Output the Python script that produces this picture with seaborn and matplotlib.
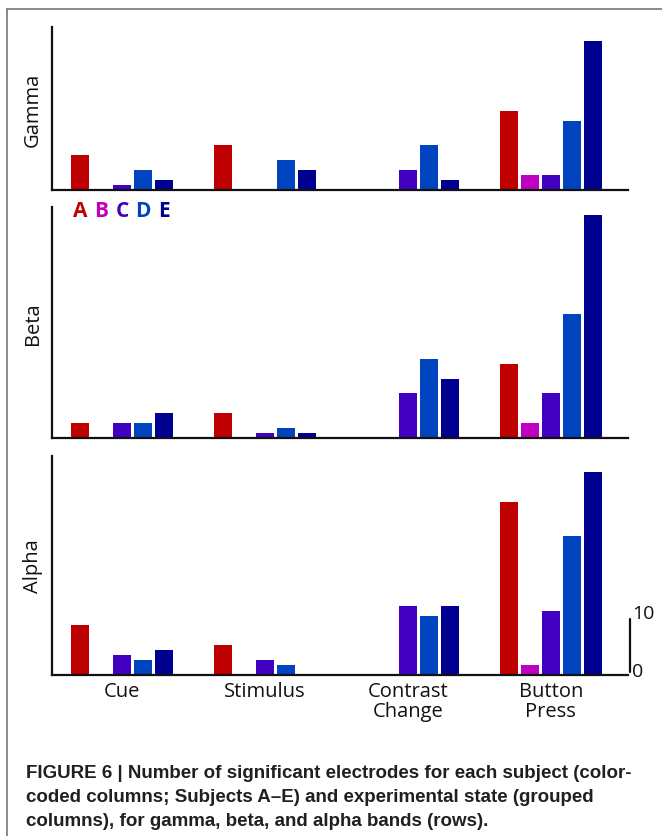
import numpy as np
import pandas as pd
import matplotlib
matplotlib.use("Agg")
import matplotlib.pyplot as plt
from matplotlib.lines import Line2D
import seaborn as sns

# Data: number of significant electrodes per subject and state
states = ["Cue", "Stimulus", "Contrast\nChange", "Button\nPress"]
subjects = ["A", "B", "C", "D", "E"]
colors = ["#BF0000", "#C000C0", "#4200C0", "#0044C0", "#000090"]

gamma = {
    "A": [7, 9, 0, 16],
    "B": [0, 0, 0, 3],
    "C": [1, 0, 4, 3],
    "D": [4, 6, 9, 14],
    "E": [2, 4, 2, 30],
}
beta = {
    "A": [3, 5, 0, 15],
    "B": [0, 0, 0, 3],
    "C": [3, 1, 9, 9],
    "D": [3, 2, 16, 25],
    "E": [5, 1, 12, 45],
}
alpha = {
    "A": [10, 6, 0, 35],
    "B": [0, 0, 0, 2],
    "C": [4, 3, 14, 13],
    "D": [3, 2, 12, 28],
    "E": [5, 0, 14, 41],
}
bands = ["Gamma", "Beta", "Alpha"]
band_data = [gamma, beta, alpha]
ymax = [32.9, 46.7, 44.2]

caption = ("FIGURE 6 | Number of significant electrodes for each subject (color-\n"
           "coded columns; Subjects A\u2013E) and experimental state (grouped\n"
           "columns), for gamma, beta, and alpha bands (rows).")

sns.set_theme(style="white")
plt.rcParams["font.family"] = ["Open Sans", "DejaVu Sans"]

W, H = 662, 837
fig = plt.figure(figsize=(W / 100, H / 100), dpi=100)

# axes boxes in pixels: (top, bottom)
boxes = [(28, 191), (208, 439), (457, 676)]
left_px, right_px = 52, 628

axes = []
for (top, bot), band, data, ym in zip(boxes, bands, band_data, ymax):
    ax = fig.add_axes([left_px / W, 1 - bot / H, (right_px - left_px) / W, (bot - top) / H])
    df = pd.DataFrame(
        [(s, subj, v) for subj in subjects for s, v in zip(states, data[subj])],
        columns=["state", "subject", "count"],
    )
    sns.barplot(data=df, x="state", y="count", hue="subject", order=states,
                hue_order=subjects, palette=colors, width=0.735, gap=0.14,
                linewidth=0, saturation=1, legend=False, ax=ax)
    ax.set_xlim(-0.49, 3.54)
    ax.set_ylim(0, ym)
    ax.set_yticks([])
    ax.set_xlabel("")
    ax.set_ylabel(band, fontsize=14.5, color="#111111")
    ax.yaxis.set_label_coords(-0.016, 0.5)
    for side in ["top", "right"]:
        ax.spines[side].set_visible(False)
    for side in ["left", "bottom"]:
        ax.spines[side].set_linewidth(1.6)
        ax.spines[side].set_color("#111111")
    ax.tick_params(axis="x", length=0, pad=4)
    axes.append(ax)

for ax in axes[:2]:
    ax.set_xticks([])
ax = axes[2]
ax.set_xticklabels(states, fontsize=14.5, color="#111111", linespacing=1.05)

# subject letters under the gamma panel
pitch = 0.735 / len(subjects)
for j, (subj, c) in enumerate(zip(subjects, colors)):
    axes[1].text((j - 2) * pitch, 0.987, subj, color=c, fontsize=15,
                 fontweight="bold", ha="center", va="center",
                 transform=axes[1].get_xaxis_transform())

# scale bar on the alpha panel
sb = axes[2]
sb.plot([1.004, 1.004], [0.7, 11.3], color="#111111", lw=1.6,
        transform=sb.get_yaxis_transform(), clip_on=False)
sb.text(1.007, 12.6, "10", fontsize=14, ha="left", va="center",
        color="#111111", transform=sb.get_yaxis_transform())
sb.text(1.007, 0.8, "0", fontsize=14, ha="left", va="center",
        color="#111111", transform=sb.get_yaxis_transform())

# page frame
fig.add_artist(Line2D([7 / W, 1], [1 - 10 / H, 1 - 10 / H], color="#777777", lw=1.2))
fig.add_artist(Line2D([7 / W, 7 / W], [0, 1 - 10 / H], color="#777777", lw=1.2))

fig.text(26 / W, 1 - 765 / H, caption, fontsize=13.5, fontweight="bold",
         family=["Liberation Sans Narrow", "Liberation Sans", "DejaVu Sans"],
         color="#231F20", ha="left", va="top", linespacing=1.55)

fig.savefig("out.png", dpi=100)
